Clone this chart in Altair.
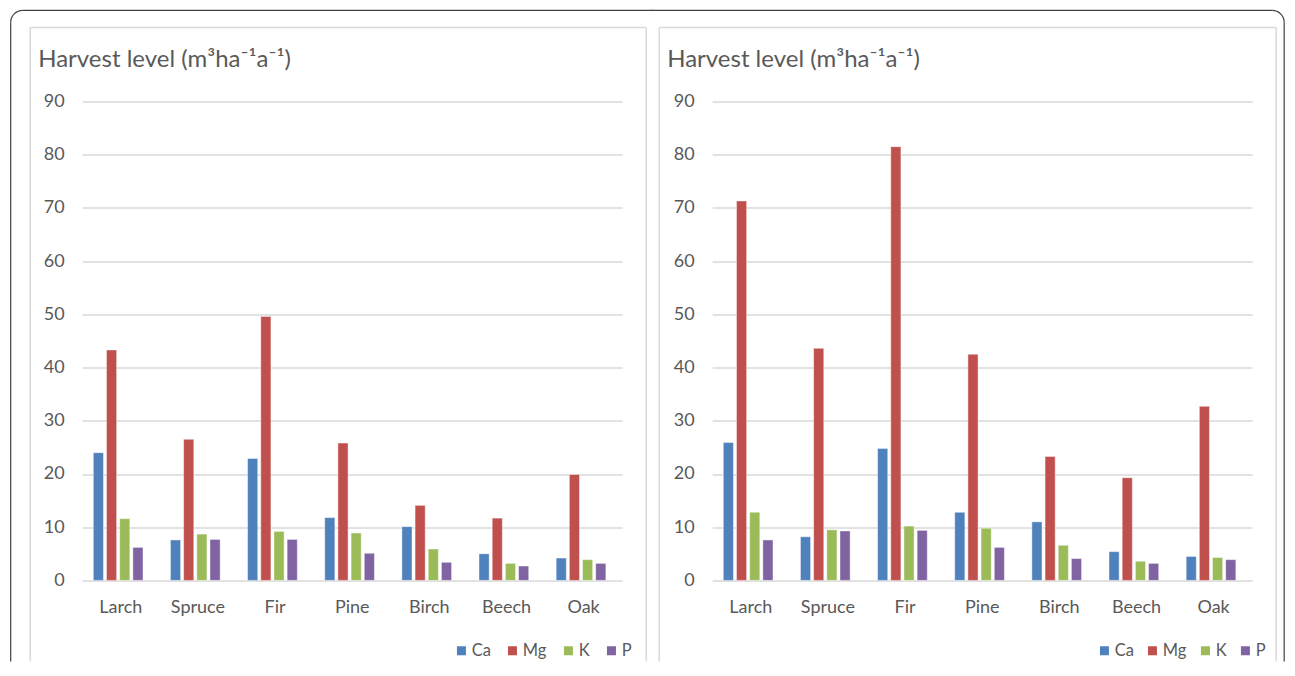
import math
import altair as alt
import pandas as pd

SPECIES = ["Larch", "Spruce", "Fir", "Pine", "Birch", "Beech", "Oak"]
ELEMENTS = ["Ca", "Mg", "K", "P"]
COLORS = ["#4F81BD", "#C0504D", "#9BBB59", "#8064A2"]
Y_TICKS = [0, 10, 20, 30, 40, 50, 60, 70, 80, 90]
TITLE = "Harvest level (m³ha⁻¹a⁻¹)"

LEFT_CA = [24.0, 7.6, 22.9, 11.8, 10.1, 5.0, 4.2]
LEFT_MG = [43.3, 26.5, 49.6, 25.8, 14.1, 11.7, 19.9]
LEFT_K = [11.6, 8.7, 9.2, 8.9, 5.9, 3.2, 3.9]
LEFT_P = [6.2, 7.7, 7.7, 5.1, 3.4, 2.7, 3.2]

RIGHT_CA = [25.9, 8.2, 24.8, 12.8, 11.0, 5.4, 4.5]
RIGHT_MG = [71.3, 43.6, 81.5, 42.5, 23.3, 19.3, 32.7]
RIGHT_K = [12.8, 9.5, 10.2, 9.8, 6.6, 3.6, 4.3]
RIGHT_P = [7.6, 9.3, 9.4, 6.2, 4.1, 3.2, 3.9]

FONT = "Lato"
TEXT_COLOR = "#595959"
GRID_COLOR = "#d9d9d9"
FRAME_COLOR = "#404040"
FW = 1.2          # frame line thickness
BOTTOM = 560      # lower end of frame lines, relative to plot top
R = 12            # frame corner radius
TOP = -91         # frame top line centre, relative to plot top

ONE = pd.DataFrame({"t": [TITLE]})


def make_df(series):
    rows = []
    for el, vals in zip(ELEMENTS, series):
        for sp, v in zip(SPECIES, vals):
            rows.append({"species": sp, "element": el, "value": v})
    return pd.DataFrame(rows)


def rule(x1, y1, x2, y2, color, width):
    return alt.Chart(ONE).mark_rule(color=color, strokeWidth=width).encode(
        x=alt.value(x1), x2=alt.value(x2), y=alt.value(y1), y2=alt.value(y2)
    )


def band(x1, y1, x2, y2):
    # filled strip (no stroke) so that layout bounds are exact
    return alt.Chart(ONE).mark_rect(color=FRAME_COLOR, strokeWidth=0).encode(
        x=alt.value(x1), x2=alt.value(x2), y=alt.value(y1), y2=alt.value(y2)
    )


def corner(cx, cy, t1, t2):
    return alt.Chart(ONE).mark_arc(color=FRAME_COLOR).encode(
        x=alt.value(cx), y=alt.value(cy),
        theta=alt.value(t1), theta2=alt.value(t2),
        radius=alt.value(R + FW / 2), radius2=alt.value(R - FW / 2),
    )


def panel(series, legend_x, col_pad, box_x, title_x, frame_layers):
    df = make_df(series)

    bars = alt.Chart(df).mark_bar(
        stroke="white", strokeWidth=0.8, strokeOpacity=0.55
    ).encode(
        x=alt.X(
            "species:N",
            sort=SPECIES,
            title=None,
            scale=alt.Scale(paddingInner=0.25, paddingOuter=0.125),
            axis=alt.Axis(labelAngle=0, labelPadding=18, grid=False),
        ),
        xOffset=alt.XOffset("element:N", sort=ELEMENTS,
                            scale=alt.Scale(paddingInner=0.23,
                                            paddingOuter=0.31, align=0.18)),
        y=alt.Y(
            "value:Q",
            title=None,
            scale=alt.Scale(domain=[0, 90], nice=False),
            axis=alt.Axis(values=Y_TICKS, labelPadding=18, grid=True,
                          gridColor=GRID_COLOR, gridWidth=1.5),
        ),
        color=alt.Color(
            "element:N",
            sort=ELEMENTS,
            scale=alt.Scale(domain=ELEMENTS, range=COLORS),
            legend=alt.Legend(title=None, orient="none", direction="horizontal",
                              legendX=legend_x, legendY=541,
                              columnPadding=col_pad),
        ),
    )

    title = alt.Chart(ONE).mark_text(
        align="left", baseline="alphabetic", font=FONT, fontSize=24,
        color=TEXT_COLOR,
    ).encode(
        text="t:N", x=alt.value(title_x), y=alt.value(-34),
    )

    layers = list(frame_layers) + [
        rule(box_x, -74, box_x, BOTTOM, GRID_COLOR, 1.5),
        rule(564, -74, 564, BOTTOM, GRID_COLOR, 1.5),
        rule(box_x, -74, 564, -74, GRID_COLOR, 1.5),
        bars,
        title,
    ]
    return alt.layer(*layers).properties(width=540, height=479)


h = FW / 2
# outer rounded frame, split between the two panels
LX = -71.5            # frame left line centre (left panel coords)
RX = 572              # frame right line centre (right panel coords)
left_frame = [
    band(LX - h, TOP + R, LX + h, BOTTOM),
    band(LX + R, TOP - h, 570, TOP + h),
    corner(LX + R, TOP + R, 1.5 * math.pi, 2 * math.pi),
]
right_frame = [
    band(-61.5, TOP - h, RX - R, TOP + h),
    band(RX - h, TOP + R, RX + h, BOTTOM),
    corner(RX - R, TOP + R, 0, 0.5 * math.pi),
]

left = panel([LEFT_CA, LEFT_MG, LEFT_K, LEFT_P], 371, 13, -52, -44, left_frame)
right = panel([RIGHT_CA, RIGHT_MG, RIGHT_K, RIGHT_P], 384, 10, -53, -45,
              right_frame)

chart = alt.hconcat(left, right, spacing=-2).resolve_legend(
    color="independent"
).properties(
    padding={"left": 1.2, "top": 1.4, "right": 0, "bottom": 0}
).configure_view(stroke=None).configure_axis(
    labelFont=FONT, labelFontSize=18, labelColor=TEXT_COLOR,
    domain=False, ticks=False, tickSize=0,
).configure_legend(
    symbolType="square", symbolSize=81, symbolStrokeWidth=0,
    labelFont=FONT, labelFontSize=16.5, labelColor=TEXT_COLOR,
    labelOffset=2, padding=0,
)

chart.save("out.html", embed_options={"renderer": "svg", "actions": False})
